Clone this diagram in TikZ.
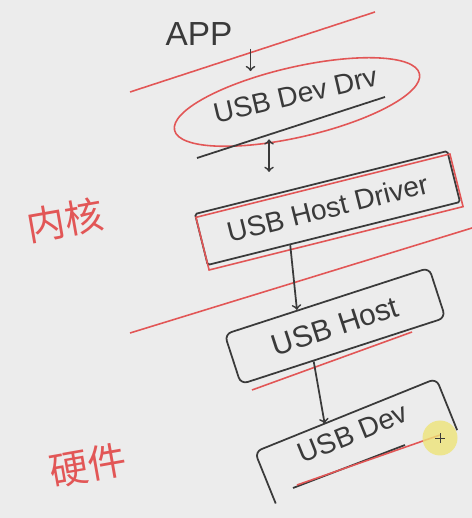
\documentclass[tikz,border=0pt]{standalone}
\usepackage{fontspec}
\setmainfont{Liberation Sans}
\newfontfamily\cjk{Noto Sans CJK SC}
\usepackage{xcolor}
\usetikzlibrary{shapes.geometric}
\definecolor{pen}{RGB}{58,58,58}
\definecolor{redpen}{RGB}{226,86,86}
\definecolor{board}{RGB}{236,236,236}
\definecolor{cursor}{RGB}{238,228,120}

\begin{document}
\begin{tikzpicture}[font=\fontsize{16}{19}\selectfont,
 layer/.style={text=pen,inner sep=3pt},
 box/.style={layer,draw=pen,line width=1pt,rounded corners=4pt},
 tag/.style={text=redpen,font=\cjk\fontsize{22}{26}\selectfont},
 sep/.style={draw=redpen,line width=0.9pt},
 arr/.style={->,line width=1pt,draw=pen}]
 \fill[board] (0,0) rectangle (9.44,10.36);
 \useasboundingbox (0,0) rectangle (9.44,10.36);
 % layers
 \node[layer,font=\fontsize{19}{22}\selectfont](app) at (3.98,9.68){APP};
 \node[layer,ellipse,draw=redpen,line width=0.9pt,rotate=13,text depth=0.3cm,minimum width=4.7cm,minimum height=1.4cm](devdrv) at (5.94,8.32){USB Dev Drv};
 \node[box,rounded corners=1pt,rotate=14,minimum width=5.2cm,minimum height=1.05cm](hostdrv) at (6.55,6.2){USB Host Driver};
 \node[box,rotate=18,font=\fontsize{17}{20}\selectfont,minimum width=4.3cm,minimum height=1.05cm](host) at (6.7,3.84){USB Host};
 \node[layer,rotate=22,text depth=0.35cm,minimum width=3.9cm,minimum height=1.1cm](dev) at (7.12,1.54){USB Dev};
 \draw[pen,line width=1pt,rounded corners=4pt] (dev.south west) -- (dev.north west) -- (dev.north east) -- (dev.south east);
 % kernel / hardware
 \node[tag,rotate=10](kernel) at (1.3,5.96){内核};
 \node[tag,rotate=10](hw) at (1.76,1.06){硬件};
 % red separators and marks
 \draw[sep] (2.6,8.52) -- (7.5,10.12);
 \draw[sep] (2.6,3.7) -- (9.44,5.8);
 \draw[pen,line width=1pt] (3.94,7.2) -- (7.7,8.42);
 \draw[sep] ([shift={(0.04,-0.08)}]hostdrv.north west) -- ([shift={(0.04,-0.08)}]hostdrv.north east) -- ([shift={(0.04,-0.08)}]hostdrv.south east) -- ([shift={(0.04,-0.08)}]hostdrv.south west) -- cycle;
 \draw[sep] (5.04,2.56) -- (8.24,3.72);
 \draw[pen,line width=1pt] (5.86,0.6) -- (8.1,1.46);
 \draw[sep] (5.94,0.66) -- (8.8,1.66);
 % arrows
 \draw[arr] ([xshift=0.25cm,yshift=0.05cm]app.south east) -- ++(0,-0.45);
 \draw[arr,<->] ([xshift=-0.72cm,yshift=-0.05cm]devdrv.south) -- ++(0,-0.65);
 \draw[arr] (hostdrv.211) -- (host.139);
 \draw[arr] (host.221) -- (dev.129);
 % pointer
 \fill[cursor,opacity=0.8] (8.8,1.6) circle (0.35);
 \draw[pen,thin] (8.7,1.6) -- (8.9,1.6) (8.8,1.5) -- (8.8,1.7);
\end{tikzpicture}
\end{document}
